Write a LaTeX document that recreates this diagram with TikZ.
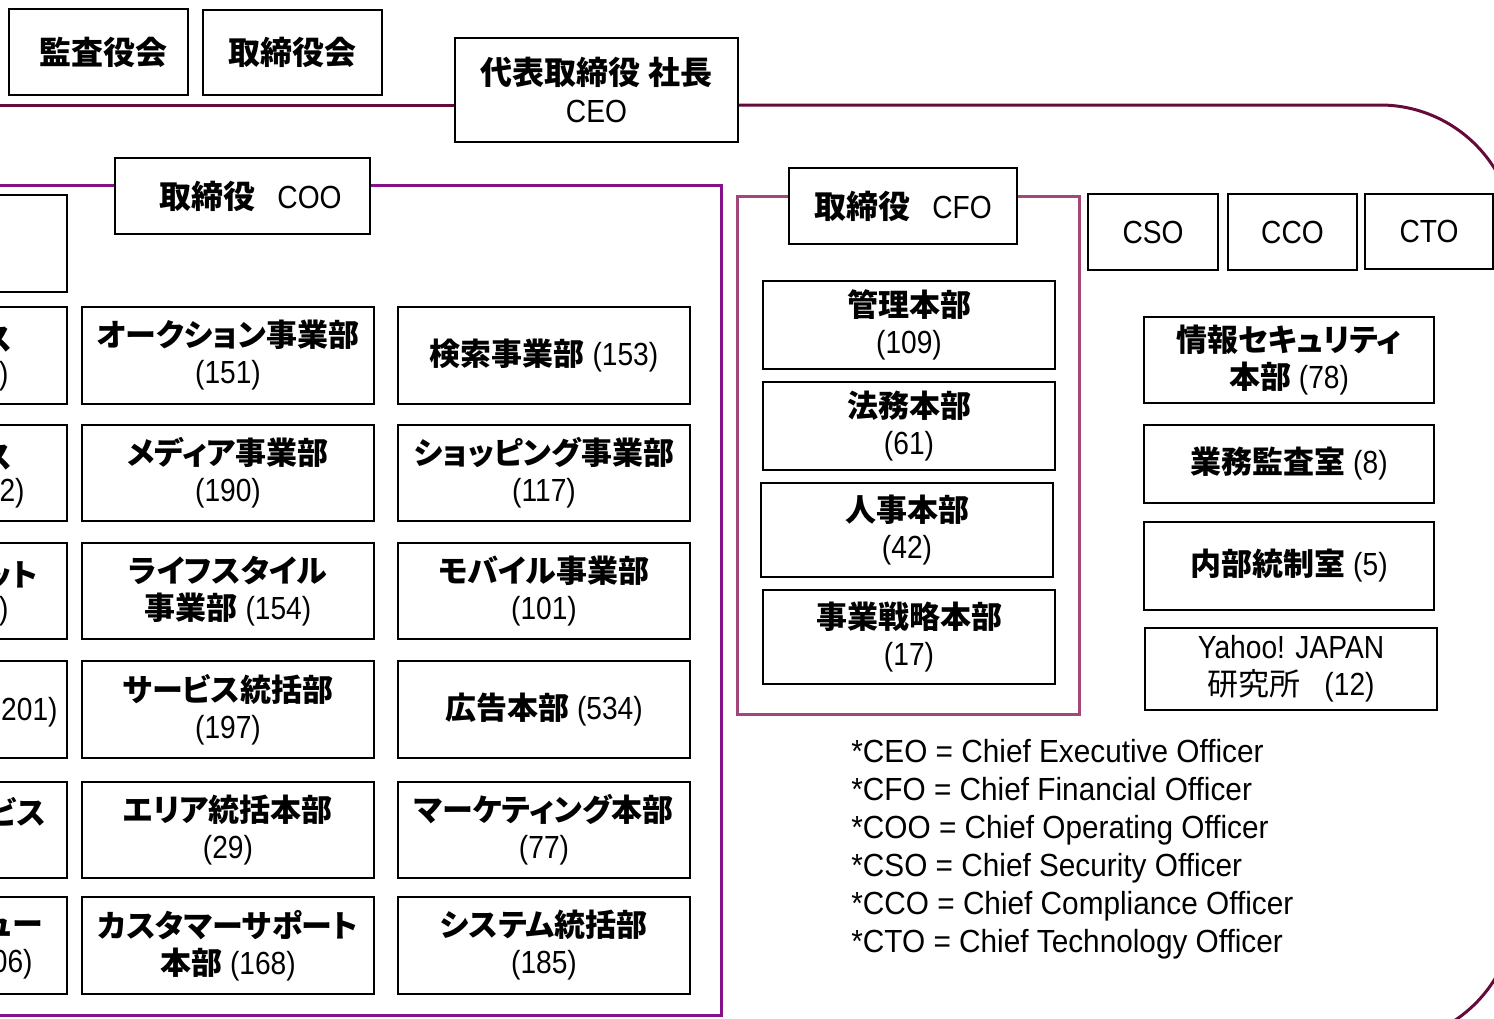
\documentclass[tikz,border=0pt]{standalone}
\usepackage{fontspec}
\setmainfont{Liberation Sans}[FakeStretch=0.88]
\newfontfamily\footfont{Liberation Sans}[FakeStretch=0.93]
\newfontfamily\jp{Noto Sans CJK JP}[RawFeature=+palt]
\newcommand\J[1]{{\jp\bfseries\fontsize{15.5}{18.5}\selectfont #1}}
\newcommand\JH[1]{{\jp\bfseries\fontsize{16}{19}\selectfont #1}}
\newcommand\JR[1]{{\jp\fontsize{15.5}{18.5}\selectfont #1}}
\definecolor{topc}{HTML}{650A3A}
\definecolor{cooc}{HTML}{85128A}
\definecolor{cfoc}{HTML}{A34678}
\tikzset{
  box/.style={draw=black, line width=1.2pt, fill=white, align=center, inner sep=0pt,
    font=\fontsize{16}{18.5}\selectfont},
  hbox/.style={box, font=\fontsize{16}{19}\selectfont},
  frag/.style={inner sep=0pt, anchor=east, font=\fontsize{16}{18.5}\selectfont},
  topline/.style={draw=topc, line width=1.5pt},
  cooline/.style={draw=cooc, line width=1.5pt},
  cfoline/.style={draw=cfoc, line width=1.5pt},
  foot/.style={inner sep=0pt, anchor=north west, align=left, font=\footfont\fontsize{16}{19}\selectfont}
}
\newcommand\bx[7][box]{\node[#1, minimum width={((#5)-(#3))*0.5pt}, minimum height={((#6)-(#4))*0.5pt}] (#2) at ({((#3)+(#5))/2},{((#4)+(#6))/2}) {#7};}
\begin{document}
\begin{tikzpicture}[x=0.5pt, y=-0.5pt]
\useasboundingbox (0,0) rectangle (1494,1018);
% top boxes
\bx[hbox]{kansa}{9}{9}{188}{95}{\hspace{5pt}\JH{監査役会}}
\bx[hbox]{torikai}{203}{10}{382}{95}{\JH{取締役会}}
\bx[hbox]{ceo}{455}{38}{738}{142}{\JH{代表取締役 社長}\\CEO}
% main frame line
\coordinate (tl) at (-10,105);
\coordinate (tr) at (1515,105);
\coordinate (br) at (1515,1043);
\coordinate (bl) at (-10,1043);
\draw[topline] (tl) -- (ceo.west |- tl);
\draw[topline, rounded corners=67.5pt] (ceo.east |- tl) -- (tr) -- (br) -- (bl);
% COO
\bx[hbox]{coo}{115}{158}{370}{234}{\hspace{8pt}\JH{取締役}\hspace{11pt}COO}
\coordinate (cool) at (-10,185);
\coordinate (coor) at (721,185);
\coordinate (coobr) at (721,1015);
\coordinate (coobl) at (-10,1015);
\draw[cooline] (cool) -- (coo.west |- cool);
\draw[cooline] (coo.east |- cool) -- (coor) -- (coobr) -- (coobl);
% CFO
\bx[hbox]{cfo}{789}{168}{1017}{244}{\JH{取締役}\hspace{11pt}CFO}
\coordinate (cfol) at (737,196);
\coordinate (cfor) at (1079,196);
\coordinate (cfobl) at (737,714);
\coordinate (cfobr) at (1079,714);
\draw[cfoline] (cfo.west |- cfol) -- (cfol) -- (cfobl) -- (cfobr) -- (cfor) -- (cfo.east |- cfor);
% left cut column
\bx{lc0}{-20}{195}{67}{292}{}
\bx{lc1}{-20}{307}{67}{404}{}
\bx{lc2}{-20}{425}{67}{521}{}
\bx{lc3}{-20}{543}{67}{639}{}
\bx{lc4}{-20}{661}{67}{758}{}
\bx{lc5}{-20}{782}{67}{878}{}
\bx{lc6}{-20}{897}{67}{994}{}
\node[frag] (f1a) at (12,340) {\J{ス}};
\node[frag] (f1b) at (9,376) {)};
\node[frag] (f2a) at (12,458) {\J{ス}};
\node[frag] (f2b) at (25,493) {2)};
\node[frag] (f3a) at (38,576) {\J{ット}};
\node[frag] (f3b) at (9,611) {)};
\node[frag] (f4a) at (58,712) {201)};
\node[frag] (f5a) at (46,812) {\J{ビス}};
\node[frag] (f6a) at (43,928) {\J{ュー}};
\node[frag] (f6b) at (33,964) {06)};
% column 1
\bx{a1}{82}{307}{374}{404}{\J{オークション事業部}\\(151)}
\bx{a2}{82}{425}{374}{521}{\J{メディア事業部}\\(190)}
\bx{a3}{82}{543}{374}{639}{\J{ライフスタイル}\\\J{事業部} (154)}
\bx{a4}{82}{661}{374}{758}{\J{サービス統括部}\\(197)}
\bx{a5}{82}{782}{374}{878}{\J{エリア統括本部}\\(29)}
\bx{a6}{82}{897}{374}{994}{\J{カスタマーサポート}\\\J{本部} (168)}
% column 2
\bx{b1}{398}{307}{690}{404}{\J{検索事業部} (153)}
\bx{b2}{398}{425}{690}{521}{\J{ショッピング事業部}\\(117)}
\bx{b3}{398}{543}{690}{639}{\J{モバイル事業部}\\(101)}
\bx{b4}{398}{661}{690}{758}{\J{広告本部} (534)}
\bx{b5}{398}{782}{690}{878}{\J{マーケティング本部}\\(77)}
\bx{b6}{398}{897}{690}{994}{\J{システム統括部}\\(185)}
% CFO boxes
\bx{c1}{763}{281}{1055}{369}{\J{管理本部}\\(109)}
\bx{c2}{763}{382}{1055}{470}{\J{法務本部}\\(61)}
\bx{c3}{761}{483}{1053}{577}{\J{人事本部}\\(42)}
\bx{c4}{763}{590}{1055}{684}{\J{事業戦略本部}\\(17)}
% officers
\bx[hbox]{cso}{1088}{194}{1218}{270}{CSO}
\bx[hbox]{cco}{1228}{194}{1357}{270}{CCO}
\bx[hbox]{cto}{1365}{194}{1493}{269}{CTO}
% right boxes
\bx{d1}{1144}{317}{1434}{403}{\J{情報セキュリティ}\\\J{本部} (78)}
\bx{d2}{1144}{425}{1434}{503}{\J{業務監査室} (8)}
\bx{d3}{1144}{522}{1434}{610}{\J{内部統制室} (5)}
\bx{d4}{1145}{628}{1437}{710}{Yahoo! JAPAN\\\JR{研究所}\hspace{12pt}(12)}
% footnotes
\node[foot] (fn) at (851,739) {*CEO = Chief Executive Officer\\*CFO = Chief Financial Officer\\*COO = Chief Operating Officer\\*CSO = Chief Security Officer\\*CCO = Chief Compliance Officer\\*CTO = Chief Technology Officer};
\end{tikzpicture}
\end{document}
